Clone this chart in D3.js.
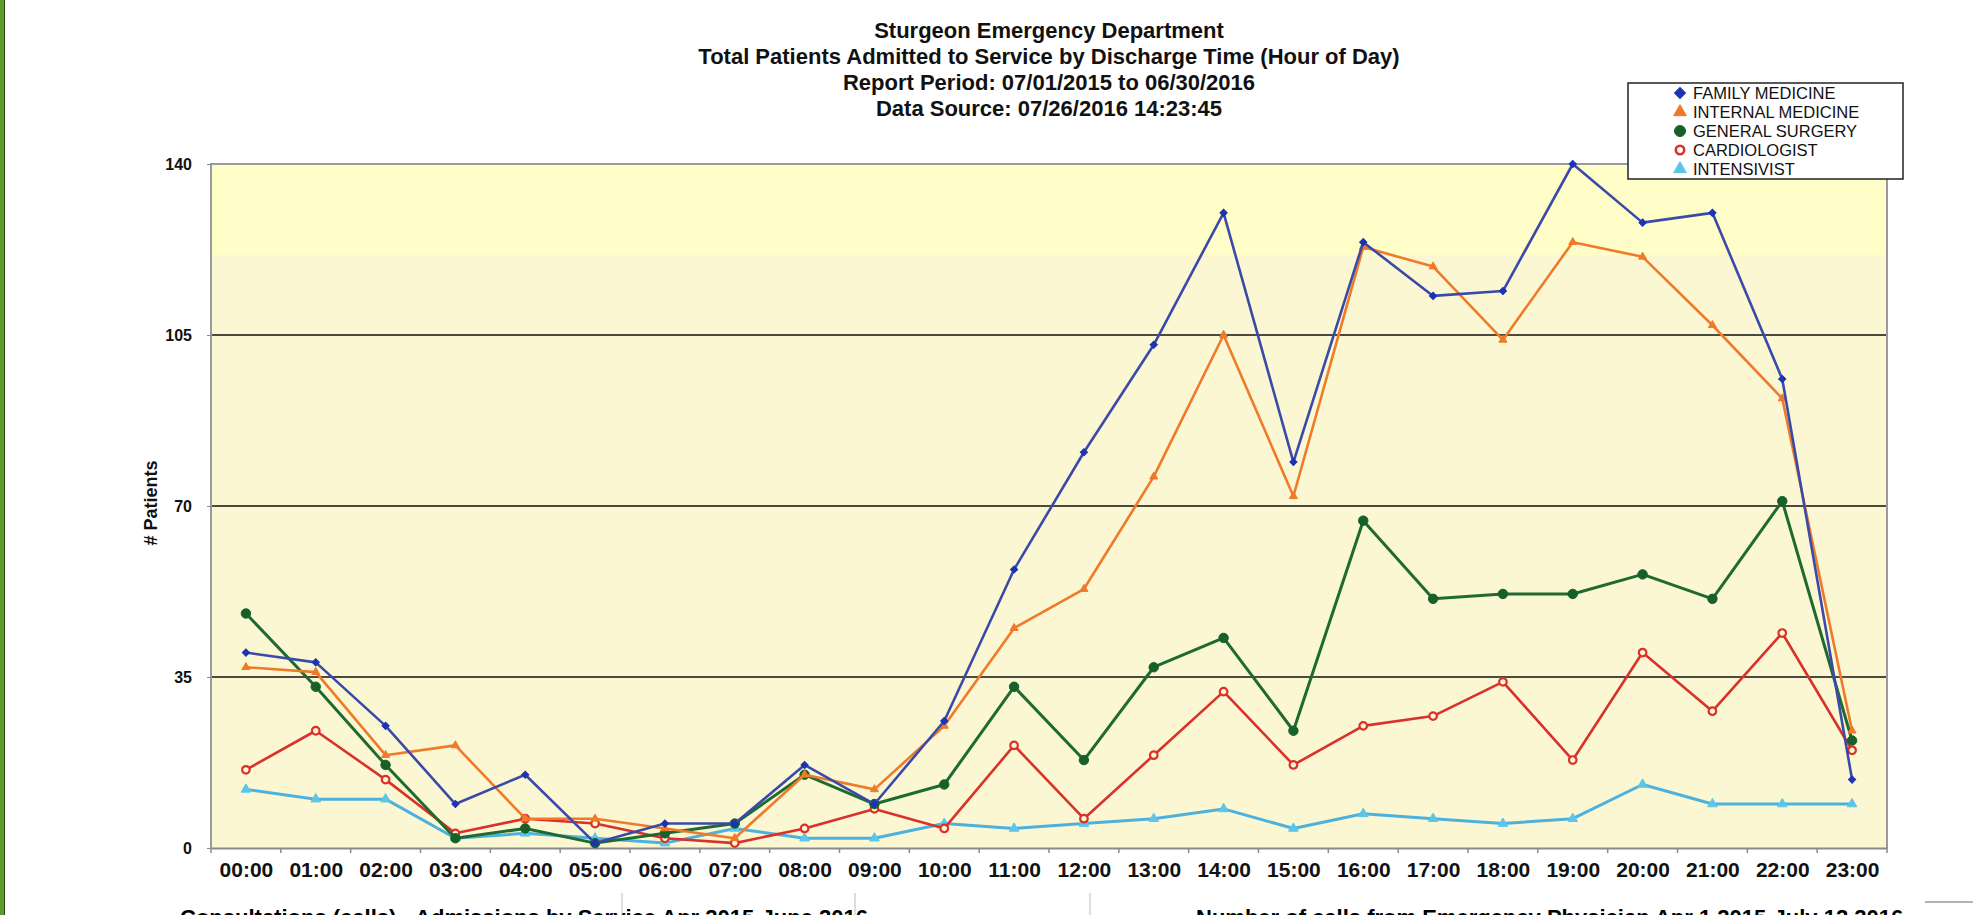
<!DOCTYPE html>
<html>
<head>
	<meta charset="utf-8"/>
	<title>Sturgeon ED - Patients Admitted by Discharge Hour</title>
	<script src="https://cdn.jsdelivr.net/npm/d3@7"></script>
	<style type="text/css">
		html, body { margin: 0; padding: 0; background: #fff; overflow: hidden; }
		svg { display: block; }
		.narrow { font-family: "Liberation Sans Narrow", "Arial Narrow", sans-serif; font-weight: bold; }
		.title { font-family: "Liberation Sans", Arial, sans-serif; font-weight: bold; font-size: 22px; }
	</style>
</head>
<body>
	<svg id="chart" width="1973" height="915"></svg>
	<script type="text/javascript">

		// data
		var hours = ["00:00","01:00","02:00","03:00","04:00","05:00","06:00","07:00","08:00","09:00","10:00","11:00",
			"12:00","13:00","14:00","15:00","16:00","17:00","18:00","19:00","20:00","21:00","22:00","23:00"];
		var familyMedicine   = [40,38,25,9,15,1,5,5,17,9,26,57,81,103,130,79,124,113,114,140,128,130,96,14];
		var internalMedicine = [37,36,19,21,6,6,4,2,15,12,25,45,53,76,105,72,123,119,104,124,121,107,92,24];
		var generalSurgery   = [48,33,17,2,4,1,3,5,15,9,13,33,18,37,43,24,67,51,52,52,56,51,71,22];
		var cardiologist     = [16,24,14,3,6,5,2,1,4,8,4,21,6,19,32,17,25,27,34,18,40,28,44,20];
		var intensivist      = [12,10,10,2,3,2,1,4,2,2,5,4,5,6,8,4,7,6,5,6,13,9,9,9];
		var yTicks = [0, 35, 70, 105, 140];
		var titleLines = [
			"Sturgeon Emergency Department",
			"Total Patients Admitted to Service by Discharge Time (Hour of Day)",
			"Report Period: 07/01/2015 to 06/30/2016",
			"Data Source: 07/26/2016 14:23:45"
		];

		var series = [
			{name: "FAMILY MEDICINE",   values: familyMedicine,   line: "#3a4aa8", mark: "#1b33b5", shape: "diamond"},
			{name: "INTERNAL MEDICINE", values: internalMedicine, line: "#ef7a2a", mark: "#ef7a2a", shape: "triangle"},
			{name: "GENERAL SURGERY",   values: generalSurgery,   line: "#1f6a30", mark: "#17602a", shape: "circle"},
			{name: "CARDIOLOGIST",      values: cardiologist,     line: "#d9312b", mark: "#d9312b", shape: "open"},
			{name: "INTENSIVIST",       values: intensivist,      line: "#4db1dd", mark: "#5cc6ea", shape: "tri2"}
		];

		drawChart();

		function drawChart() {
			var svg = d3.select("#chart");
			var pLeft = 211, pRight = 1887, pTop = 164, pBottom = 848;

			var x = d3.scalePoint().domain(hours).range([pLeft, pRight]).padding(0.5);
			var xb = d3.scaleBand().domain(hours).range([pLeft, pRight]);
			var y = d3.scaleLinear().domain([0, 140]).range([pBottom, pTop]);

			// left green frame edge
			svg.append("rect").attr("x", 0).attr("y", 0).attr("width", 4).attr("height", 915).style("fill", "#5c9c2e");
			svg.append("line").attr("x1", 4.5).attr("x2", 4.5).attr("y1", 0).attr("y2", 915)
				.style("stroke", "#2d4a18").style("stroke-width", 1);

			// plot background
			svg.append("rect").attr("x", pLeft).attr("y", pTop).attr("width", pRight - pLeft).attr("height", pBottom - pTop)
				.style("fill", "#fbf7d2");
			svg.append("rect").attr("x", pLeft).attr("y", pTop).attr("width", pRight - pLeft).attr("height", 91)
				.style("fill", "#fffdc8");

			// grid lines
			svg.append("g").selectAll("line")
				.data([35, 70, 105]).enter()
				.append("line")
					.attr("x1", pLeft).attr("x2", pRight)
					.attr("y1", function(d) { return y(d); })
					.attr("y2", function(d) { return y(d); })
					.style("stroke", "#111").style("stroke-width", 1.5);

			// frame
			svg.append("path")
				.attr("d", "M" + pLeft + "," + pBottom + "V" + pTop + "H" + pRight + "V" + pBottom)
				.style("fill", "none").style("stroke", "#9a9a9a").style("stroke-width", 2);

			// y axis
			var yAxis = svg.append("g").attr("transform", "translate(" + pLeft + ",0)")
				.call(d3.axisLeft(y).tickValues(yTicks).tickSize(4).tickPadding(15));
			yAxis.select(".domain").remove();
			yAxis.selectAll("line").style("stroke", "#888");
			yAxis.selectAll("text").attr("class", "narrow").style("font-size", "16px").style("fill", "#111");

			// x axis
			var xAxis = svg.append("g").attr("transform", "translate(0," + pBottom + ")")
				.call(d3.axisBottom(x).tickSize(0).tickPadding(14));
			xAxis.select(".domain").style("stroke", "#8a8a8a").style("stroke-width", 2);
			xAxis.selectAll("text").attr("class", "narrow").style("font-size", "21px").style("fill", "#111");
			svg.append("g").selectAll("line")
				.data(hours.map(function(h) { return xb(h); }).concat([pRight])).enter()
				.append("line")
					.attr("x1", function(d) { return d; }).attr("x2", function(d) { return d; })
					.attr("y1", pBottom).attr("y2", pBottom + 5)
					.style("stroke", "#8a8a8a").style("stroke-width", 1.5);

			svg.append("text")
				.attr("class", "narrow")
				.attr("transform", "translate(157,503) rotate(-90)")
				.attr("text-anchor", "middle")
				.style("font-size", "18px").style("fill", "#111")
				.text("# Patients");

			// title
			svg.append("g").selectAll("text")
				.data(titleLines).enter()
				.append("text")
					.attr("class", "title")
					.attr("x", 1049)
					.attr("y", function(d, i) { return 38 + i * 26; })
					.attr("text-anchor", "middle")
					.style("fill", "#111")
					.text(function(d) { return d; });

			// diamonds are squares turned 45 degrees, like the report's markers
			function symbolFor(shape, size) {
				var t = d3.symbolCircle;
				if (shape == "diamond") t = d3.symbolSquare;
				if (shape == "triangle" || shape == "tri2") t = d3.symbolTriangle;
				return d3.symbol().type(t).size(size)();
			}
			function placeAt(shape, px, py) {
				return "translate(" + px + "," + py + ")" + (shape == "diamond" ? " rotate(45)" : "");
			}

			function drawMarks(g, s, px, py) {
				var size = {diamond: 26, triangle: 28, circle: 70, open: 45, tri2: 40}[s.shape];
				g.append("path")
					.attr("d", symbolFor(s.shape, size))
					.attr("transform", placeAt(s.shape, px, py))
					.style("fill", s.shape == "open" ? "#fbf7d2" : s.mark)
					.style("stroke", s.mark)
					.style("stroke-width", s.shape == "open" ? 2.2 : 1);
			}

			var line = d3.line()
				.x(function(d, i) { return x(hours[i]); })
				.y(function(d) { return y(d); });

			var drawOrder = [4, 3, 2, 1, 0];
			drawOrder.forEach(function(k) {
				var s = series[k];
				var g = svg.append("g");
				g.append("path")
					.datum(s.values)
					.attr("d", line)
					.style("fill", "none")
					.style("stroke", s.line)
					.style("stroke-width", k == 2 || k == 4 ? 3 : 2.6)
					.style("stroke-linejoin", "round");
				s.values.forEach(function(v, i) {
					drawMarks(g, s, x(hours[i]), y(v));
				});
			});

			// legend
			var lg = svg.append("g");
			lg.append("rect").attr("x", 1628).attr("y", 83).attr("width", 275).attr("height", 96)
				.style("fill", "#fff").style("stroke", "#222").style("stroke-width", 1.5);
			series.forEach(function(s, i) {
				var ly = 93 + i * 19;
				var legendSize = {diamond: 60, triangle: 70, circle: 95, open: 55, tri2: 70}[s.shape];
				lg.append("path")
					.attr("d", symbolFor(s.shape, legendSize))
					.attr("transform", placeAt(s.shape, 1680, ly))
					.style("fill", s.shape == "open" ? "#fff" : s.mark)
					.style("stroke", s.mark)
					.style("stroke-width", s.shape == "open" ? 2.6 : 1);
				lg.append("text")
					.attr("x", 1693).attr("y", ly).attr("dy", "0.36em")
					.style("font-family", "'Liberation Sans', Arial, sans-serif")
					.style("font-size", "16.5px").style("fill", "#111")
					.text(s.name);
			});

			// next report on the page, cut off by the window
			svg.append("text").attr("class", "title").attr("x", 180).attr("y", 925)
				.text("Consultations (calls) - Admissions by Service Apr 2015-June 2016");
			svg.append("text").attr("class", "title").attr("x", 1196).attr("y", 925)
				.text("Number of calls from Emergency Physician Apr 1 2015-July 12 2016");
			svg.append("g").selectAll("line")
				.data([622, 855, 1090]).enter()
				.append("line")
					.attr("x1", function(d) { return d; }).attr("x2", function(d) { return d; })
					.attr("y1", 893).attr("y2", 915)
					.style("stroke", "#bbb").style("stroke-width", 1);
			svg.append("line").attr("x1", 1925).attr("x2", 1973).attr("y1", 902).attr("y2", 902)
				.style("stroke", "#999").style("stroke-width", 1.5);
		}

	</script>
</body>
</html>
